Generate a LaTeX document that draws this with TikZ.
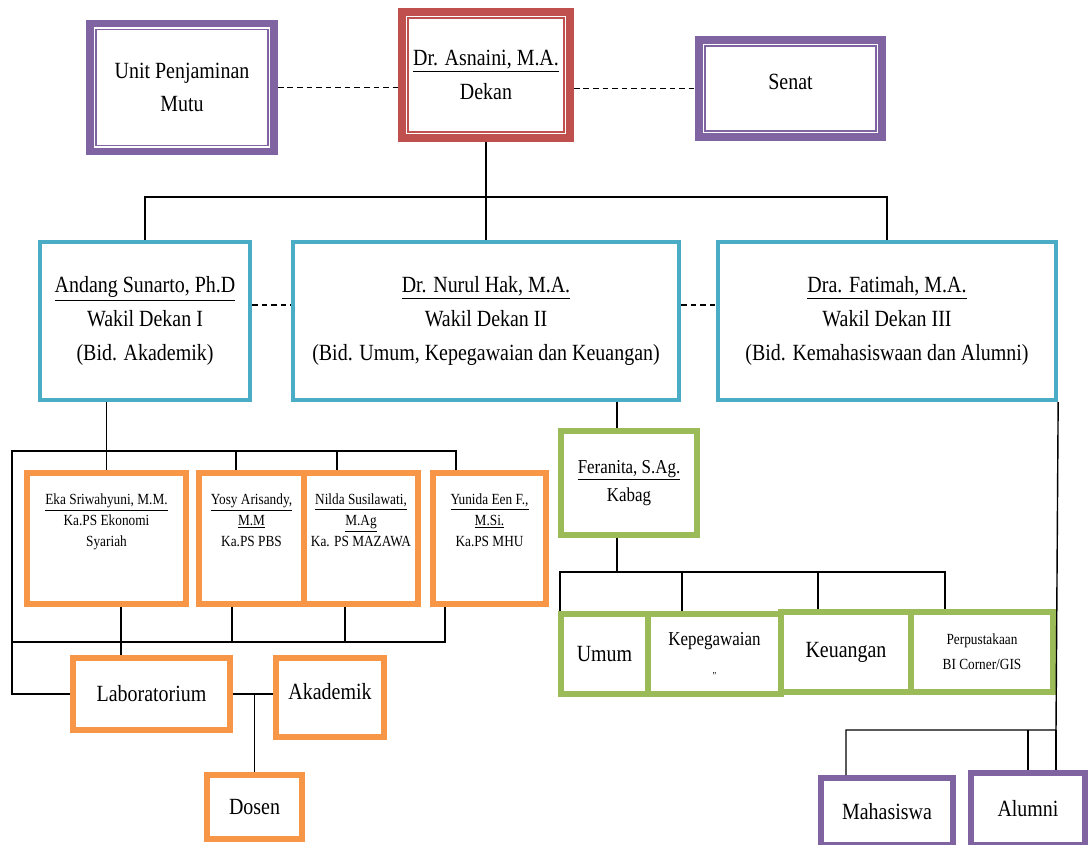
\documentclass[tikz,border=0pt]{standalone}
\usepackage{fontspec}
\setmainfont{Liberation Serif}[FakeStretch=0.86]
\definecolor{ungu}{HTML}{8064A2}
\definecolor{merah}{HTML}{C0504D}
\definecolor{biru}{HTML}{4BACC6}
\definecolor{oranye}{HTML}{F79646}
\definecolor{hijau}{HTML}{9BBB59}
\tikzset{
  garis/.style={line width=1pt},
  putus/.style={line width=1pt, dash pattern=on 4pt off 2.8pt},
  kotak/.style={draw=#1, fill=white, align=center, inner sep=0pt, font=\fontsize{16.5}{24}\selectfont},
  ganda/.style={kotak=#1, line width=5.5pt,
    path picture={\draw[#1, line width=1pt] ([shift={(4.3pt,-4.3pt)}]path picture bounding box.north west) rectangle ([shift={(-4.3pt,4.3pt)}]path picture bounding box.south east);}},
  wakil/.style={kotak=biru, line width=3pt},
  prodi/.style={kotak=oranye, line width=4pt, font=\fontsize{11}{15}\selectfont, text depth=26pt},
  oranyebox/.style={kotak=oranye, line width=4pt},
  bagian/.style={kotak=hijau, line width=4pt},
  ungubox/.style={kotak=ungu, line width=4pt},
}
\begin{document}
\begin{tikzpicture}[x=0.025cm, y=-0.025cm]
  \fill[white] (0,0) rectangle (1090,845);
  \useasboundingbox (0,0) rectangle (1090,845);

  % pimpinan
  \node[ganda=ungu, minimum width=4.6cm, minimum height=3.2cm] (upm) at (182,87.5) {Unit Penjaminan\\Mutu};
  \node[ganda=merah, minimum width=4.2cm, minimum height=3.15cm] (dekan) at (486,75) {\underline{Dr. Asnaini, M.A.}\\Dekan};
  \node[ganda=ungu, minimum width=4.575cm, minimum height=2.425cm, text depth=10pt] (senat) at (790.5,88.5) {Senat};

  \node[wakil, minimum width=5.25cm, minimum height=3.95cm] (wd1) at (145,321) {\underline{Andang Sunarto, Ph.D}\\Wakil Dekan I\\(Bid. Akademik)};
  \node[wakil, minimum width=9.65cm, minimum height=3.95cm] (wd2) at (486,321) {\underline{Dr. Nurul Hak, M.A.}\\Wakil Dekan II\\(Bid. Umum, Kepegawaian dan Keuangan)};
  \node[wakil, minimum width=8.45cm, minimum height=3.95cm] (wd3) at (887,321) {\underline{Dra. Fatimah, M.A.}\\Wakil Dekan III\\(Bid. Kemahasiswaan dan Alumni)};

  % program studi
  \node[prodi, minimum width=3.975cm, minimum height=3.275cm] (eka) at (106.5,538.5) {\underline{Eka Sriwahyuni, M.M.}\\Ka.PS Ekonomi\\Syariah};
  \node[prodi, minimum width=2.625cm, minimum height=3.275cm] (yosy) at (251.5,538.5) {\underline{Yosy Arisandy,}\\\underline{M.M}\\Ka.PS PBS};
  \node[prodi, minimum width=2.85cm, minimum height=3.275cm] (nilda) at (361,538.5) {\underline{Nilda Susilawati,}\\\underline{M.Ag}\\Ka. PS MAZAWA};
  \node[prodi, minimum width=2.825cm, minimum height=3.275cm] (yunida) at (489.5,538.5) {\underline{Yunida Een F.,}\\\underline{M.Si.}\\Ka.PS MHU};

  \node[oranyebox, minimum width=3.925cm, minimum height=1.8cm] (lab) at (151.5,694) {Laboratorium};
  \node[oranyebox, minimum width=2.7cm, minimum height=1.975cm, text depth=8pt] (akademik) at (330,697.5) {Akademik};
  \node[oranyebox, minimum width=2.375cm, minimum height=1.6cm] (dosen) at (254.5,807) {Dosen};

  % bagian
  \node[bagian, font=\fontsize{14}{20}\selectfont, minimum width=3.4cm, minimum height=2.6cm] (kabag) at (629,483) {\underline{Feranita, S.Ag.}\\Kabag};
  \node[bagian, minimum width=2.175cm, minimum height=2cm] (umum) at (604.5,654) {Umum};
  \node[bagian, font=\fontsize{14}{20}\selectfont, minimum width=3.325cm, minimum height=2cm] (kepeg) at (714.5,654) {Kepegawaian\\{\scriptsize „}};
  \node[bagian, minimum width=3.25cm, minimum height=2cm] (keu) at (846,652) {Keuangan};
  \node[bagian, font=\fontsize{11}{18}\selectfont, minimum width=3.55cm, minimum height=2cm] (perpus) at (982,652) {Perpustakaan\\BI Corner/GIS};

  \node[ungubox, minimum width=3.3cm, minimum height=1.675cm] (mhs) at (887,811.5) {Mahasiswa};
  \node[ungubox, minimum width=2.85cm, minimum height=1.8cm] (alumni) at (1028,809) {Alumni};

  % garis
  \draw[putus] (upm.east) -- (upm.east -| dekan.west);
  \draw[putus] (senat.west -| dekan.east) -- (senat.west);
  \coordinate (dekan bus) at (486,197);
  \draw[garis] (dekan.south) -- (dekan bus);
  \draw[garis] (wd1.north) |- (dekan bus) -| (wd3.north);
  \draw[garis] (dekan bus) -- (wd2.north);
  \draw[putus] ([yshift=0.4cm]wd1.east) -- ([yshift=0.4cm]wd2.west);
  \draw[putus] ([yshift=0.4cm]wd2.east) -- ([yshift=0.4cm]wd3.west);

  \coordinate (prodi bus) at (12,451);
  \draw[garis] (wd1.south -| eka.north) -- (eka.north);
  \draw[garis] (lab.west) -| (prodi bus) -| (yunida.north -| 456,0);
  \draw[garis] (prodi bus -| 236,0) -- (yosy.north -| 236,0);
  \draw[garis] (prodi bus -| 337,0) -- (nilda.north -| 337,0);
  \coordinate (prodi low) at (12,642);
  \draw[garis] (prodi low) -| (yunida.south -| 445,0);
  \draw[garis] (yosy.south -| 232,0) -- (prodi low -| 232,0);
  \draw[garis] (nilda.south -| 345,0) -- (prodi low -| 345,0);
  \draw[garis] (eka.south -| 121,0) -- (lab.north -| 121,0);
  \draw[garis] (lab.east) -- (lab.east -| akademik.west);
  \draw[garis] (lab.east -| dosen.north) -- (dosen.north);

  \draw[garis] (wd2.south -| 617,0) -- (kabag.north -| 617,0);
  \coordinate (kabag bus) at (617,572);
  \draw[garis] (kabag.south -| kabag bus) -- (kabag bus);
  \draw[garis] (umum.north -| 560,0) |- (kabag bus) -| (perpus.north -| 945,0);
  \draw[garis] (kabag bus -| 682,0) -- (kepeg.north -| 682,0);
  \draw[garis] (kabag bus -| 818,0) -- (keu.north -| 818,0);

  \coordinate (mhs bus) at (1056,730);
  \draw[garis] (wd3.south east) -- (mhs bus) -| (mhs.north -| 846,0);
  \draw[garis] (mhs bus) -- (alumni.north -| mhs bus);
  \draw[garis] (alumni.north) -- (alumni.north |- mhs bus);
\end{tikzpicture}
\end{document}
